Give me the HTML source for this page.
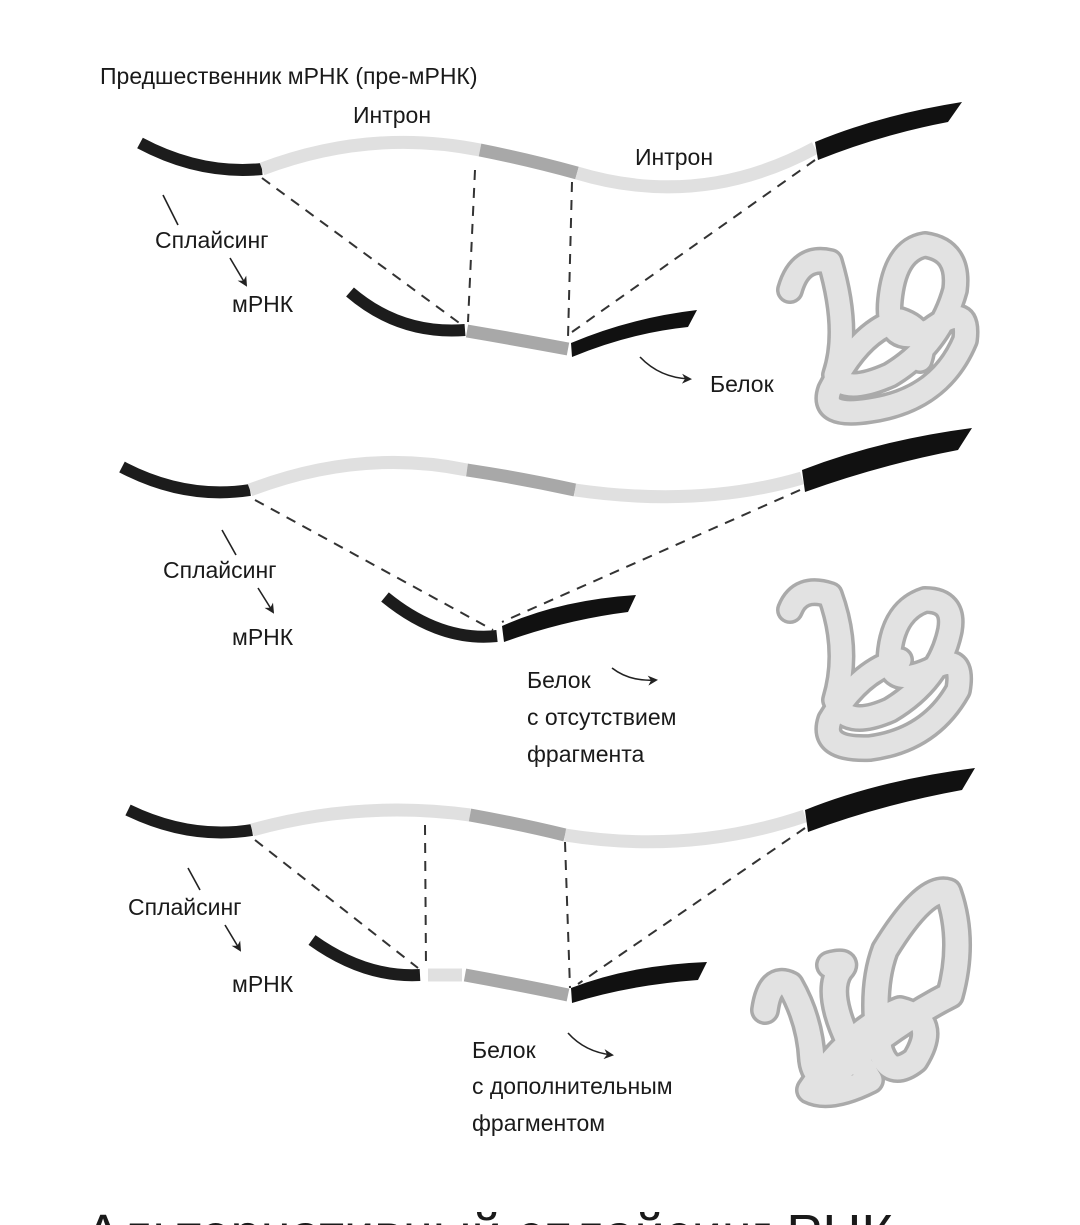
<!DOCTYPE html>
<html><head><meta charset="utf-8"><style>
html,body{margin:0;padding:0;background:#fff;}
svg{display:block;}
text{font-family:"Liberation Sans",sans-serif;fill:#1a1a1a;}
</style></head><body>
<svg width="1080" height="1225" viewBox="0 0 1080 1225" xmlns="http://www.w3.org/2000/svg">
<defs>
<marker id="ah" markerWidth="10" markerHeight="10" refX="8" refY="5" orient="auto" markerUnits="userSpaceOnUse">
<path d="M0,0 L10,5 L0,10 L3,5 Z" fill="#222"/></marker>
</defs>
<g fill="none" stroke-linecap="butt">
<path d="M140,143 Q200,175 262,169" stroke="#1c1c1c" stroke-width="12"/>
<path d="M262,169 Q370,128 480,150" stroke="#e0e0e0" stroke-width="13"/>
<path d="M480,150 Q530,160 577,173" stroke="#a8a8a8" stroke-width="13"/>
<path d="M577,173 Q700,210 815,148" stroke="#e0e0e0" stroke-width="13"/>
<path d="M815,142 Q880,115 962,102 L948,122 Q880,135 818,160 Z" fill="#111" stroke="none"/>
<path d="M350,292 Q400,335 465,330" stroke="#1c1c1c" stroke-width="12"/>
<path d="M467,331 Q520,340 568,349" stroke="#a8a8a8" stroke-width="13"/>
<path d="M571,343 Q630,318 697,310 L688,327 Q630,333 572,357 Z" fill="#111" stroke="none"/>
<g stroke="#333" stroke-width="2" stroke-dasharray="10,8">
<path d="M262,178 L462,325"/><path d="M475,170 L468,322"/><path d="M572,182 L568,338"/><path d="M815,160 L572,332"/>
</g>
<path d="M122,467 Q185,500 250,490" stroke="#1c1c1c" stroke-width="12"/>
<path d="M250,490 Q360,448 467,470" stroke="#e0e0e0" stroke-width="13"/>
<path d="M467,470 Q520,478 575,490" stroke="#a8a8a8" stroke-width="13"/>
<path d="M575,490 Q700,508 802,478" stroke="#e0e0e0" stroke-width="13"/>
<path d="M802,470 Q880,440 972,428 L958,450 Q880,465 805,492 Z" fill="#111" stroke="none"/>
<path d="M385,597 Q440,642 497,636" stroke="#1c1c1c" stroke-width="12"/>
<path d="M502,626 Q560,600 636,595 L628,612 Q565,620 504,642 Z" fill="#111" stroke="none"/>
<g stroke="#333" stroke-width="2" stroke-dasharray="10,8">
<path d="M255,500 L493,630"/><path d="M800,490 L502,622"/>
</g>
<path d="M128,810 Q190,840 252,830" stroke="#1c1c1c" stroke-width="12"/>
<path d="M252,830 Q360,800 470,815" stroke="#e0e0e0" stroke-width="13"/>
<path d="M470,815 Q520,824 565,835" stroke="#a8a8a8" stroke-width="13"/>
<path d="M565,835 Q690,855 805,816" stroke="#e0e0e0" stroke-width="13"/>
<path d="M805,810 Q880,780 975,768 L962,790 Q880,805 808,832 Z" fill="#111" stroke="none"/>
<path d="M312,940 Q365,978 420,975" stroke="#1c1c1c" stroke-width="12"/>
<path d="M428,975 L462,975" stroke="#e0e0e0" stroke-width="13"/>
<path d="M465,975 Q520,985 568,995" stroke="#a8a8a8" stroke-width="13"/>
<path d="M571,988 Q630,965 707,962 L698,980 Q630,985 572,1003 Z" fill="#111" stroke="none"/>
<g stroke="#333" stroke-width="2" stroke-dasharray="10,8">
<path d="M255,840 L418,968"/><path d="M425,825 L426,968"/><path d="M565,842 L570,988"/><path d="M805,828 L578,984"/>
</g>
<g stroke="#222" stroke-width="1.6">
<path d="M163,195 L178,225"/><path d="M230,258 L246,285" marker-end="url(#ah)"/>
<path d="M640,357 Q660,378 690,379" marker-end="url(#ah)"/>
<path d="M222,530 L236,555"/><path d="M258,588 L273,612" marker-end="url(#ah)"/>
<path d="M612,668 Q630,682 656,680" marker-end="url(#ah)"/>
<path d="M188,868 L200,890"/><path d="M225,925 L240,950" marker-end="url(#ah)"/>
<path d="M568,1033 Q585,1052 612,1055" marker-end="url(#ah)"/>
</g>
<g stroke-linecap="round" stroke-linejoin="round">
<g>
<path d="M790,290 Q800,255 830,262 Q850,330 835,375 Q845,395 890,375 Q940,345 955,290 Q960,250 925,245 Q895,250 890,300 Q885,350 930,330 Q970,300 965,340 Q940,400 870,410 Q820,418 830,390 Q860,330 900,320 Q930,330 920,360" stroke="#aaa" stroke-width="28"/>
<path d="M790,290 Q800,255 830,262 Q850,330 835,375 Q845,395 890,375 Q940,345 955,290 Q960,250 925,245 Q895,250 890,300 Q885,350 930,330 Q970,300 965,340 Q940,400 870,410 Q820,418 830,390 Q860,330 900,320 Q930,330 920,360" stroke="#e2e2e2" stroke-width="21"/>
</g>
<g>
<path d="M790,610 Q800,585 830,595 Q850,650 835,700 Q845,730 890,710 Q940,680 950,630 Q955,600 925,600 Q895,610 890,650 Q885,690 930,670 Q965,650 958,690 Q930,740 870,748 Q820,750 830,720 Q860,670 900,660" stroke="#aaa" stroke-width="28"/>
<path d="M790,610 Q800,585 830,595 Q850,650 835,700 Q845,730 890,710 Q940,680 950,630 Q955,600 925,600 Q895,610 890,650 Q885,690 930,670 Q965,650 958,690 Q930,740 870,748 Q820,750 830,720 Q860,670 900,660" stroke="#e2e2e2" stroke-width="21"/>
</g>
<g>
<path d="M765,1010 Q770,975 790,985 Q810,1020 812,1060 Q815,1085 840,1070 Q900,1020 950,995 Q965,940 948,892 Q925,885 885,950 Q870,990 880,1050 Q890,1080 915,1060 Q940,1020 900,1010 Q850,1030 810,1090 Q830,1100 870,1080 Q820,1000 840,970 Q850,960 830,965" stroke="#aaa" stroke-width="30"/>
<path d="M765,1010 Q770,975 790,985 Q810,1020 812,1060 Q815,1085 840,1070 Q900,1020 950,995 Q965,940 948,892 Q925,885 885,950 Q870,990 880,1050 Q890,1080 915,1060 Q940,1020 900,1010 Q850,1030 810,1090 Q830,1100 870,1080 Q820,1000 840,970 Q850,960 830,965" stroke="#e2e2e2" stroke-width="23"/>
</g>
</g>
</g>
<g font-size="23">
<text x="100" y="84">Предшественник мРНК (пре-мРНК)</text>
<text x="353" y="123">Интрон</text>
<text x="635" y="165">Интрон</text>
<text x="155" y="248">Сплайсинг</text>
<text x="232" y="312">мРНК</text>
<text x="710" y="392">Белок</text>
<text x="163" y="578">Сплайсинг</text>
<text x="232" y="645">мРНК</text>
<text x="527" y="688">Белок</text>
<text x="527" y="725">с отсутствием</text>
<text x="527" y="762">фрагмента</text>
<text x="128" y="915">Сплайсинг</text>
<text x="232" y="992">мРНК</text>
<text x="472" y="1058">Белок</text>
<text x="472" y="1094">с дополнительным</text>
<text x="472" y="1131">фрагментом</text>
</g>
<text x="85" y="1252" font-size="54">Альтернативный сплайсинг РНК</text>
</svg>
</body></html>
